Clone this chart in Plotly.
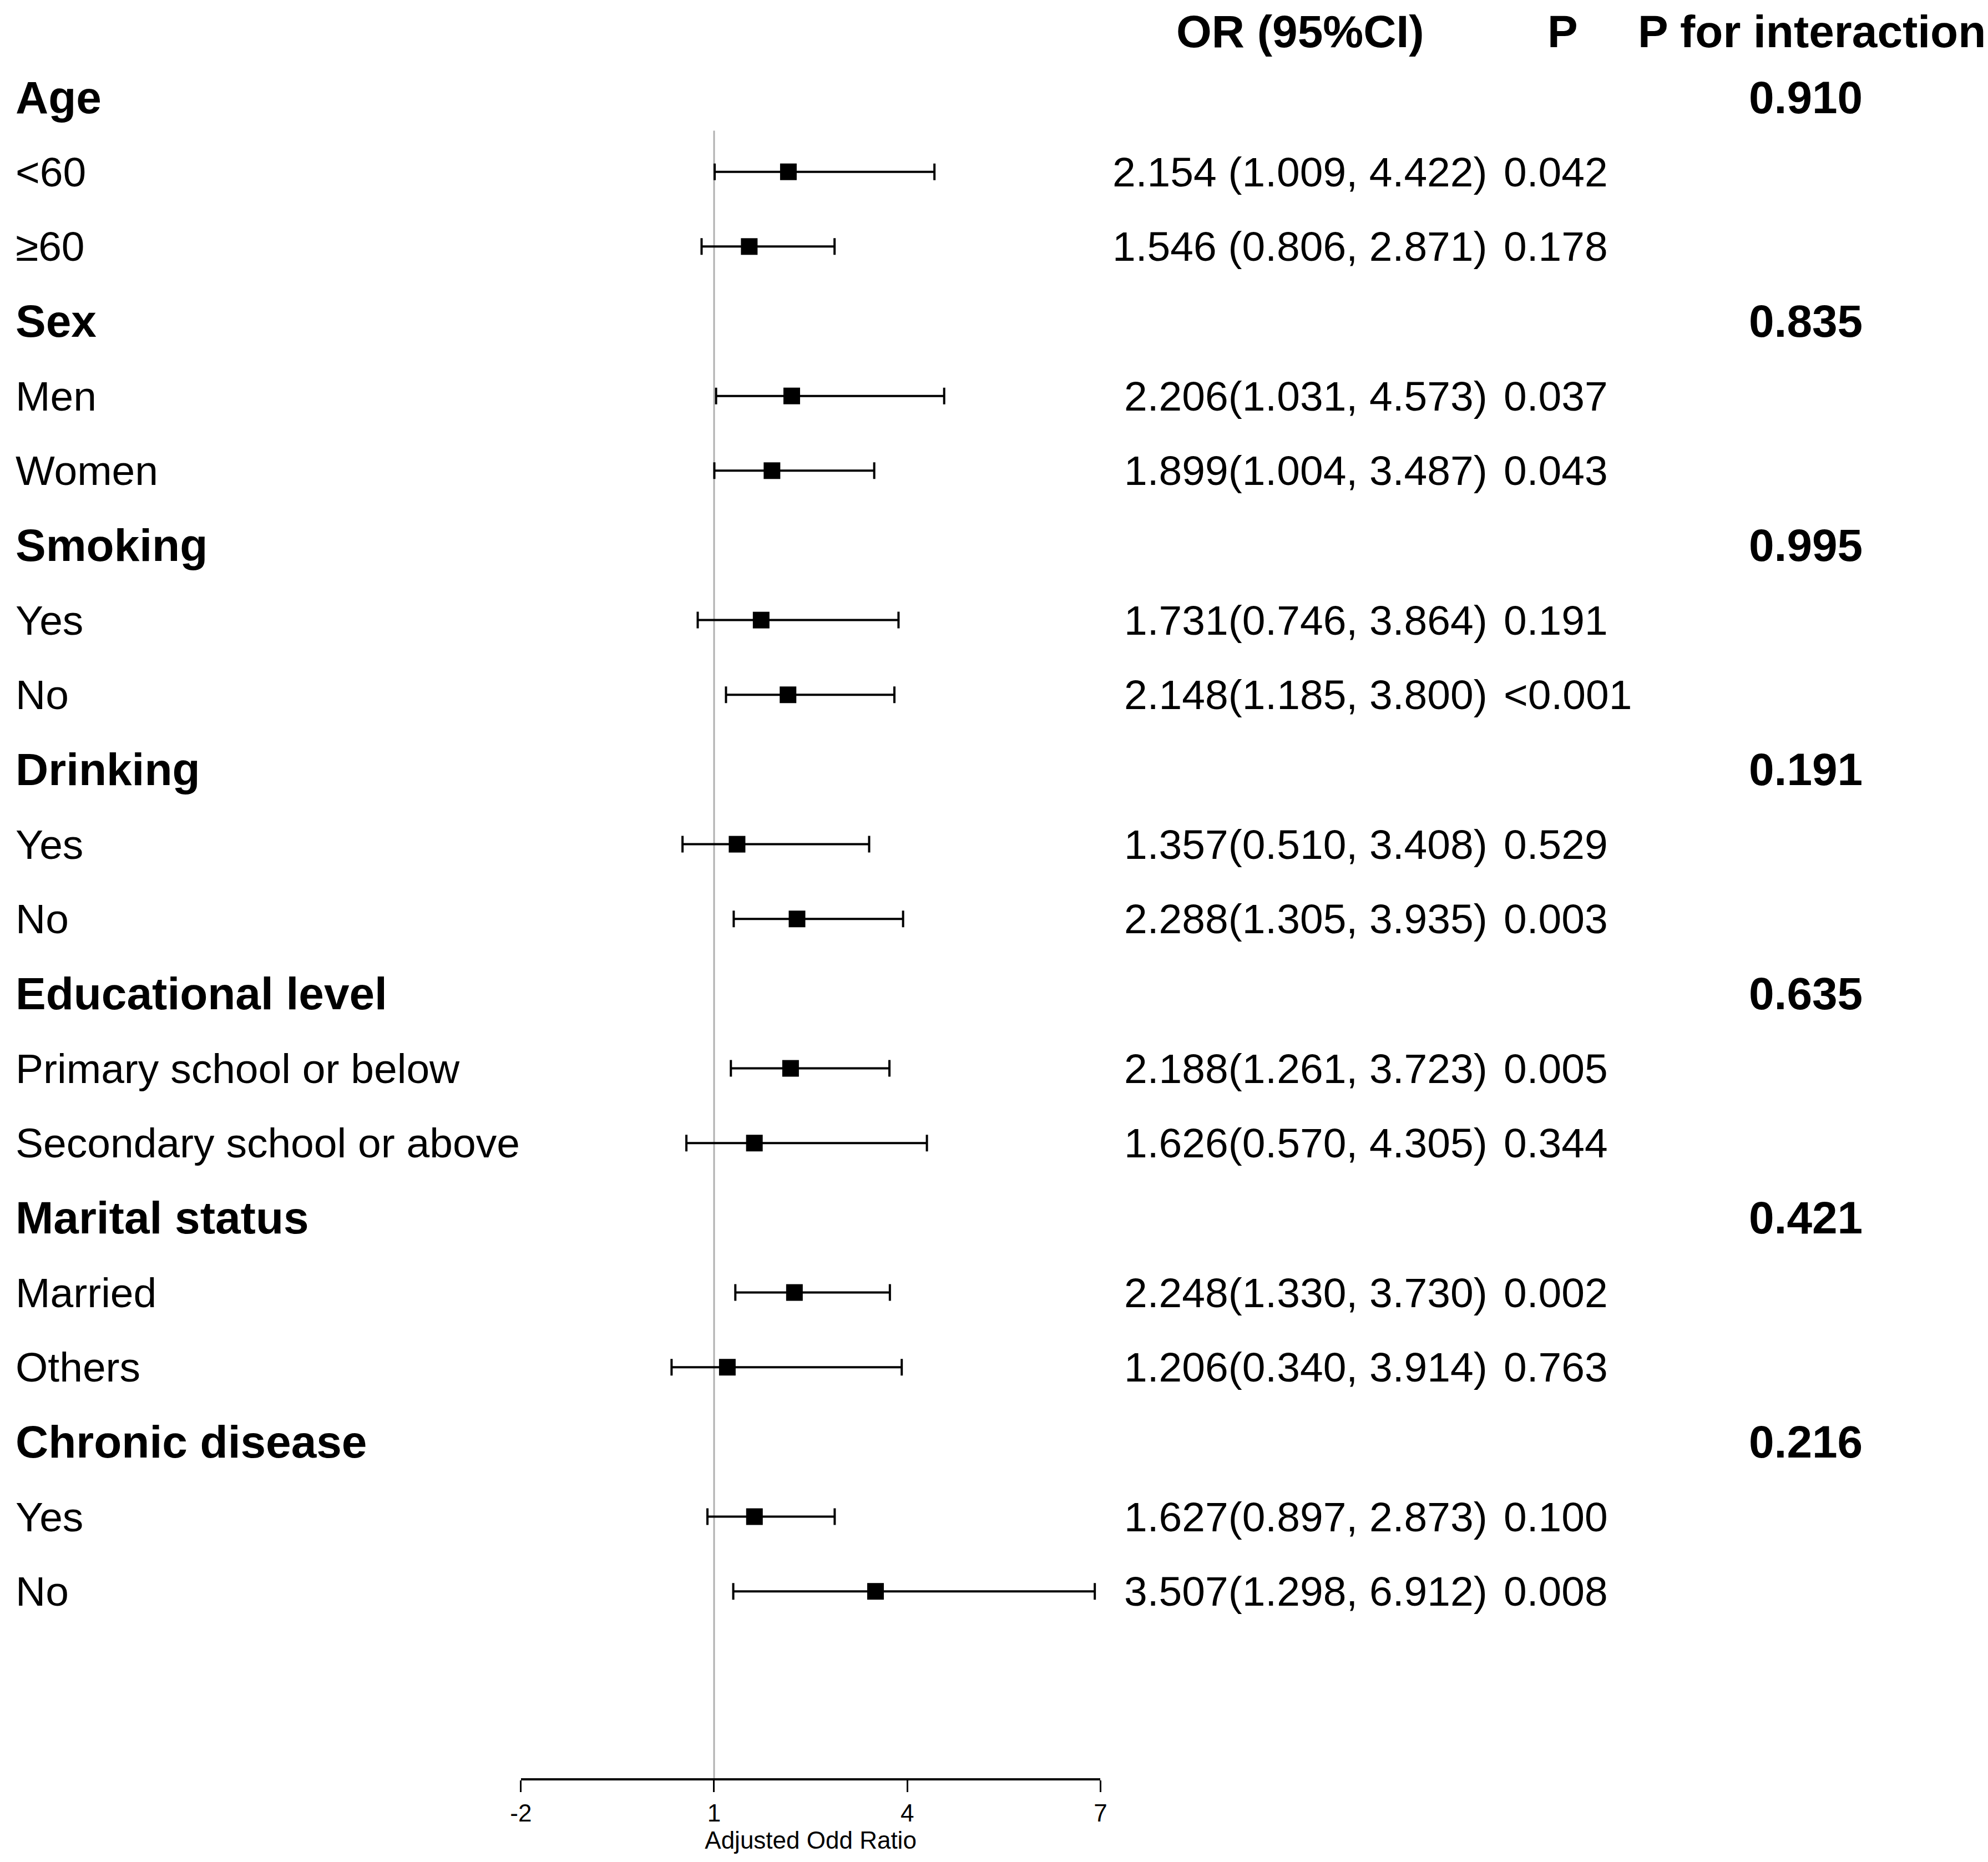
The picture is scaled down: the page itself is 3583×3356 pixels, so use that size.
import plotly.graph_objects as go

# ---------------- data ----------------
groups = ["Age", "Sex", "Smoking", "Drinking", "Educational level",
          "Marital status", "Chronic disease"]
p_interaction = ["0.910", "0.835", "0.995", "0.191", "0.635", "0.421", "0.216"]

subgroups = ["<60", "≥60", "Men", "Women", "Yes", "No", "Yes", "No",
             "Primary school or below", "Secondary school or above",
             "Married", "Others", "Yes", "No"]
odds_ratio = [2.154, 1.546, 2.206, 1.899, 1.731, 2.148, 1.357, 2.288,
              2.188, 1.626, 2.248, 1.206, 1.627, 3.507]
ci_lower = [1.009, 0.806, 1.031, 1.004, 0.746, 1.185, 0.510, 1.305,
            1.261, 0.570, 1.330, 0.340, 0.897, 1.298]
ci_upper = [4.422, 2.871, 4.573, 3.487, 3.864, 3.800, 3.408, 3.935,
            3.723, 4.305, 3.730, 3.914, 2.873, 6.912]
or_ci_text = ["2.154 (1.009, 4.422)", "1.546 (0.806, 2.871)",
              "2.206(1.031, 4.573)", "1.899(1.004, 3.487)",
              "1.731(0.746, 3.864)", "2.148(1.185, 3.800)",
              "1.357(0.510, 3.408)", "2.288(1.305, 3.935)",
              "2.188(1.261, 3.723)", "1.626(0.570, 4.305)",
              "2.248(1.330, 3.730)", "1.206(0.340, 3.914)",
              "1.627(0.897, 2.873)", "3.507(1.298, 6.912)"]
p_values = ["0.042", "0.178", "0.037", "0.043", "0.191", "<0.001", "0.529",
            "0.003", "0.005", "0.344", "0.002", "0.763", "0.100", "0.008"]

header_labels = ["OR (95%CI)", "P", "P for interaction"]
x_ticks = [-2, 1, 4, 7]
x_tick_labels = ["-2", "1", "4", "7"]
reference_or = 1
axis_title = "Adjusted Odd Ratio"

# ---------------- layout helpers ----------------
W, H = 3583, 3356
FONT = "Liberation Sans, Arial, sans-serif"
REG = 75
BOLD = 82
ROW_PX = 134.66
FIRST_ROW_PX = 167          # pixel of first row (Age) from the top
AXIS_PX = 3197              # pixel of the x-axis line
AXIS_LEFT_PX, AXIS_RIGHT_PX = 919, 1973

group_rows = [3 * g for g in range(len(groups))]
sub_rows = [3 * g + k for g in range(len(groups)) for k in (1, 2)]
axis_row = (AXIS_PX - FIRST_ROW_PX) / ROW_PX
top_row = -FIRST_ROW_PX / ROW_PX

fig = go.Figure()

# reference line at OR = 1
fig.add_shape(type="line", xref="x", yref="y",
              x0=reference_or, x1=reference_or, y0=0.45, y1=axis_row,
              line=dict(color="#b0b0b0", width=3), layer="below")

fig.add_trace(go.Scatter(
    x=odds_ratio, y=sub_rows, mode="markers",
    marker=dict(symbol="square", size=30, color="black"),
    error_x=dict(type="data", symmetric=False,
                 array=[h - o for h, o in zip(ci_upper, odds_ratio)],
                 arrayminus=[o - l for o, l in zip(odds_ratio, ci_lower)],
                 color="black", thickness=4, width=15),
    cliponaxis=False, showlegend=False, hoverinfo="skip"))

ann = []
# header row (kept fully inside the page)
hdr_y = dict(y=-1, yshift=-16)
ann.append(dict(x=2336 / W, text="<b>%s</b>" % header_labels[0],
                xanchor="center", **hdr_y))
ann.append(dict(x=2814 / W, text="<b>%s</b>" % header_labels[1],
                xanchor="center", **hdr_y))
ann.append(dict(x=1, text="<b>%s</b>" % header_labels[2],
                xanchor="right", **hdr_y))
for g, name in enumerate(groups):
    ann.append(dict(x=0, y=group_rows[g], text="<b>%s</b>" % name,
                    xanchor="left"))
    ann.append(dict(x=3359 / W, y=group_rows[g],
                    text="<b>%s</b>" % p_interaction[g], xanchor="right"))
for i, lab in enumerate(subgroups):
    r = sub_rows[i]
    ann.append(dict(x=0, y=r, text=lab, xanchor="left", reg=True))
    ann.append(dict(x=2677 / W, y=r, text=or_ci_text[i], xanchor="right",
                    reg=True))
    ann.append(dict(x=2706 / W, y=r, text=p_values[i], xanchor="left",
                    reg=True))

annotations = []
for a in ann:
    reg = a.pop("reg", False)
    base = dict(xref="paper", yref="y", yanchor="middle", showarrow=False,
                borderpad=0, borderwidth=0,
                font=dict(family=FONT, size=REG if reg else BOLD,
                          color="black"))
    base.update(a)
    annotations.append(base)

fig.update_layout(
    width=W, height=H,
    margin=dict(l=0, r=0, t=0, b=0),
    paper_bgcolor="white", plot_bgcolor="white",
    annotations=annotations,
    xaxis=dict(domain=[AXIS_LEFT_PX / W, AXIS_RIGHT_PX / W], range=[-2, 7],
               showline=True, linecolor="black", linewidth=4,
               ticks="outside", ticklen=21, tickwidth=3, tickcolor="black",
               tickvals=x_ticks, ticktext=x_tick_labels,
               tickfont=dict(family=FONT, size=44, color="black"),
               showgrid=False, zeroline=False,
               title=dict(text=axis_title, standoff=2,
                          font=dict(family=FONT, size=44, color="black"))),
    yaxis=dict(domain=[(H - AXIS_PX) / H, 1], range=[axis_row, top_row],
               visible=False, showgrid=False, zeroline=False),
)

fig.write_html("out.html")
